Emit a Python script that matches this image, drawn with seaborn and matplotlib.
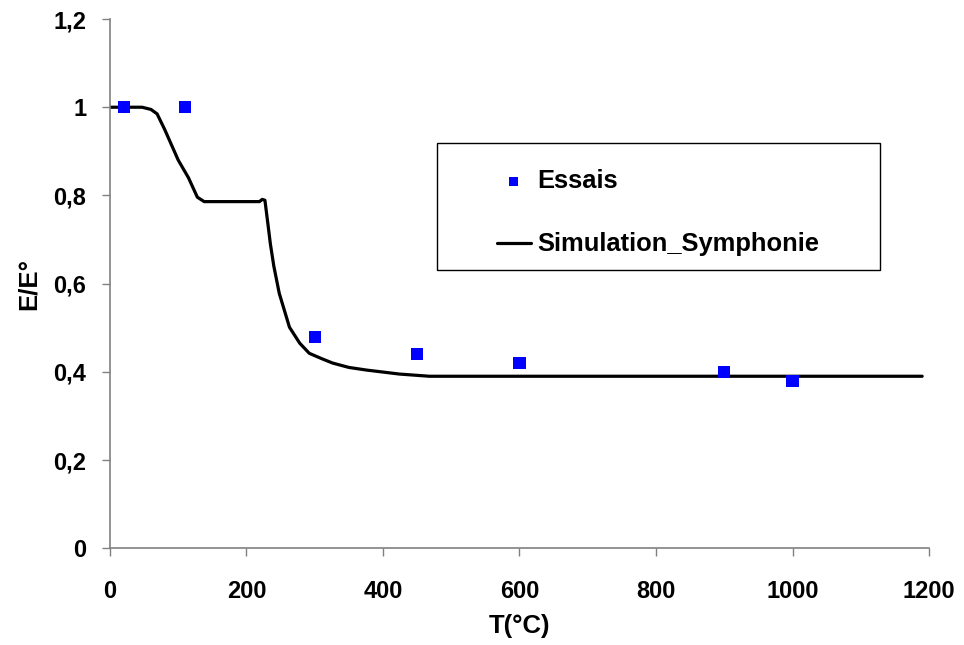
import matplotlib
matplotlib.use("Agg")
import matplotlib.pyplot as plt
from matplotlib.patches import Rectangle
import seaborn as sns

# test points (Essais)
essais_t = [20, 110, 300, 450, 600, 900, 1000]
essais_e = [1.0, 1.0, 0.48, 0.44, 0.42, 0.40, 0.38]

# simulation curve (Simulation_Symphonie)
sim_t = [0, 20, 47, 60, 69, 80, 100, 115, 128, 138, 219, 223, 227, 231, 235,
         240, 248, 263, 278, 292, 310, 326, 350, 376, 424, 468, 1190]
sim_e = [1.0, 1.0, 1.0, 0.995, 0.985, 0.95, 0.88, 0.84, 0.796, 0.786, 0.786,
         0.791, 0.789, 0.74, 0.69, 0.64, 0.578, 0.501, 0.465, 0.442, 0.43,
         0.42, 0.41, 0.404, 0.395, 0.39, 0.39]

x_ticks = [0, 200, 400, 600, 800, 1000, 1200]
y_ticks = [0, 0.2, 0.4, 0.6, 0.8, 1.0, 1.2]
y_labels = ["0", "0,2", "0,4", "0,6", "0,8", "1", "1,2"]

sns.set_style("white")
plt.rcParams["font.family"] = ["Liberation Sans", "DejaVu Sans"]
plt.rcParams["font.weight"] = "bold"
plt.rcParams["text.color"] = "black"
plt.rcParams["axes.labelcolor"] = "black"
plt.rcParams["xtick.color"] = "black"
plt.rcParams["ytick.color"] = "black"

fig = plt.figure(figsize=(9.64, 6.45), dpi=100)
ax = fig.add_axes([0.1141, 0.150, 0.8496, 0.8205])

sns.lineplot(x=sim_t, y=sim_e, ax=ax, color="black", linewidth=2.3,
             label="Simulation_Symphonie", legend=False)
sns.scatterplot(x=essais_t, y=essais_e, ax=ax, color="#0000ff", marker="s",
                s=75, edgecolor="none", label="Essais", legend=False, zorder=3)

ax.set_xlim(0, 1200)
ax.set_ylim(0, 1.2)
ax.set_xticks(x_ticks)
ax.set_xticklabels([str(t) for t in x_ticks])
ax.set_yticks(y_ticks)
ax.set_yticklabels(y_labels)
ax.tick_params(axis="both", direction="out", length=6, width=1, color="#808080",
               labelsize=17, labelcolor="black", left=True, bottom=True)
ax.tick_params(axis="x", pad=17)
ax.tick_params(axis="y", pad=11)
for lab in ax.get_xticklabels() + ax.get_yticklabels():
    lab.set_fontweight("bold")

for side in ["top", "right"]:
    ax.spines[side].set_visible(False)
for side in ["left", "bottom"]:
    ax.spines[side].set_color("#808080")
    ax.spines[side].set_linewidth(1.2)

ax.set_xlabel("T(°C)", fontsize=18.5, fontweight="bold", labelpad=8)
ax.set_ylabel("E/E°", fontsize=18.5, fontweight="bold", labelpad=9)

# legend box
ax.add_patch(Rectangle((0.399, 0.526), 0.541, 0.240, transform=ax.transAxes,
                       facecolor="white", edgecolor="black", linewidth=1,
                       zorder=4))
handles, labels = ax.get_legend_handles_labels()
order = [labels.index("Essais"), labels.index("Simulation_Symphonie")]
leg = ax.legend([handles[i] for i in order], [labels[i] for i in order],
                loc="upper left", bbox_to_anchor=(0.4565, 0.741),
                frameon=False, labelspacing=1.55, markerscale=0.75,
                handlelength=1.33, handletextpad=0.25, borderpad=0,
                prop={"weight": "bold", "size": 18.4})
leg.set_zorder(5)

fig.savefig("out.png", dpi=100)
